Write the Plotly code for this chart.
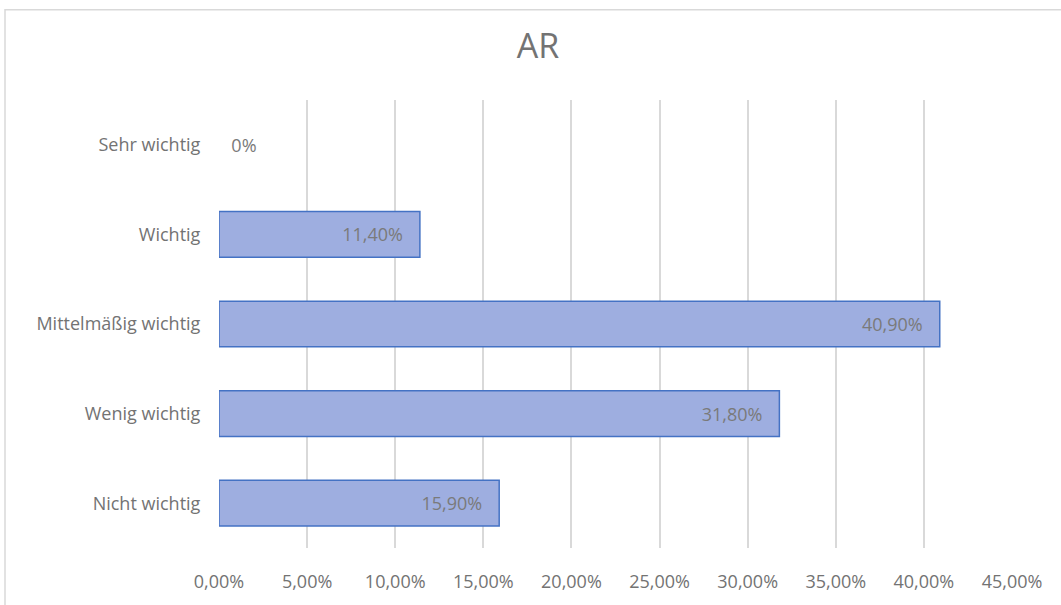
import plotly.graph_objects as go

categories = ["Nicht wichtig", "Wenig wichtig", "Mittelmäßig wichtig", "Wichtig", "Sehr wichtig"]
values = [0.159, 0.318, 0.409, 0.114, 0.0]
x_ticks = [0, 0.05, 0.10, 0.15, 0.20, 0.25, 0.30, 0.35, 0.40, 0.45]

NB = "\u00a0"

def fmt(v):
    if v == 0:
        return NB * 2 + "0%"
    return f"{v*100:.2f}%".replace(".", ",") + NB * 3

labels = [fmt(v) for v in values]
positions = ["outside" if v == 0 else "inside" for v in values]
line_widths = [0 if v == 0 else 1.5 for v in values]

W, H = 1061, 605
L, R, T, B = 219, 49, 100, 53
pw, ph = W - L - R, H - T - B
TXT = "#737373"

fig = go.Figure(go.Bar(
    y=categories, x=values, orientation="h",
    text=labels, textposition=positions, insidetextanchor="end",
    textfont=dict(color="#7a7a7a", size=18),
    outsidetextfont=dict(color="#7a7a7a", size=18),
    marker=dict(color="#9eaee0", line=dict(color="#4472c4", width=line_widths)),
    cliponaxis=False,
))

fig.update_layout(
    width=W, height=H,
    margin=dict(l=L, r=R, t=T, b=B),
    paper_bgcolor="white", plot_bgcolor="white",
    font=dict(family="Open Sans, Lato, sans-serif", color=TXT, size=18),
    separators=",.",
    bargap=0.49,
    showlegend=False,
    title=dict(text="AR", x=538 / W, xref="container", xanchor="center", y=1 - 46 / H, yref="container",
               yanchor="middle", font=dict(size=34, color=TXT)),
    xaxis=dict(range=[0, 0.45], tickvals=x_ticks, tickformat=".2%",
               showgrid=True, gridcolor="#d9d9d9", gridwidth=1.5,
               zeroline=False, showline=False,
               ticks="outside", ticklen=17, tickcolor="rgba(0,0,0,0)",
               tickfont=dict(size=18, color=TXT)),
    yaxis=dict(showgrid=False, zeroline=False, showline=False,
               ticks="outside", ticklen=14, tickcolor="rgba(0,0,0,0)",
               tickfont=dict(size=18, color=TXT)),
    shapes=[dict(type="rect", xref="paper", yref="paper",
                 x0=(5 - L) / pw, x1=(W + 10 - L) / pw,
                 y0=-(H + 10 - T - ph) / ph, y1=(T + ph - 9) / ph,
                 line=dict(color="#d9d9d9", width=1.5), fillcolor="rgba(0,0,0,0)", layer="below")],
)

fig.write_html("out.html")
